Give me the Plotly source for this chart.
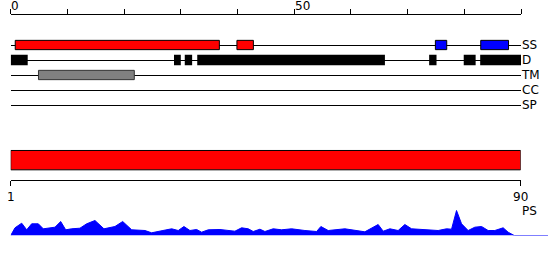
import plotly.graph_objects as go

W, H = 550, 260

# ---------------- data ----------------
track_names = ["SS", "D", "TM", "CC", "SP"]

ss_helix_start = [0.8, 39.9]
ss_helix_end = [36.8, 42.8]
ss_strand_start = [74.9, 82.9]
ss_strand_end = [76.9, 87.8]

dis_start = [0.0, 28.8, 30.7, 32.9, 73.8, 79.9, 82.8]
dis_end = [3.0, 30.0, 32.0, 66.0, 75.1, 82.0, 90.0]

tm_start = [4.9]
tm_end = [21.8]

ruler_ticks = [0, 10, 20, 30, 40, 50, 60, 70, 80, 90]
ruler_labels = [0, 50]

seq_start = 1
seq_end = 90

ps_pos = [1, 1.75, 2.92, 3.79, 4.66, 5.82, 6.69, 7.56, 8.73, 9.73, 10.6, 11.65,
          13.09, 14.26, 15.71, 17.28, 19.2, 20.55, 22.12, 24.44, 25.6, 27.58,
          29.1, 30.25, 31.24, 32.29, 33.46, 34.33, 35.49, 37.53, 40.14, 41.31,
          42.47, 43.34, 44.51, 45.38, 46.83, 48.29, 50.04, 52.36, 54.4, 55.15,
          56.43, 59.34, 62.83, 65.15, 66.03, 67.2, 68.64, 69.81, 70.98, 75.62,
          77.09, 77.96, 78.83, 79.71, 80.86, 82.03, 83.2, 84.35, 85.52, 86.97,
          87.84, 88.9, 94.8]
ps_val = [0, 7.7, 12.3, 5.7, 11.7, 11.7, 6.7, 7.7, 8.3, 14, 5.7, 6.7,
          7.3, 11.7, 15, 6.7, 9, 14, 5.7, 5, 2.7, 5,
          6.7, 5, 9, 5, 6, 3.3, 5.7, 6, 4.3, 7.7,
          6.7, 4, 6.3, 4, 6.7, 5.7, 6.7, 5, 4, 9,
          5, 6.7, 3.7, 11, 4.3, 6.7, 5, 11, 6.7, 5,
          6.7, 6.3, 25, 11.7, 5, 8.3, 9, 5, 5, 7.7,
          3.3, 0, 0]

# ---------------- figure ----------------
def px(x):
    return x / W

def py(y):
    return 1 - y / H

fig = go.Figure()

def boxes(starts, ends, name, fill, line_color, line_w, width):
    fig.add_trace(go.Bar(
        orientation="h",
        y=[name] * len(starts),
        base=starts,
        x=[e - s for s, e in zip(starts, ends)],
        width=width,
        marker=dict(color=fill, line=dict(color=line_color, width=line_w)),
        xaxis="x", yaxis="y", showlegend=False, hoverinfo="skip",
    ))

boxes(ss_helix_start, ss_helix_end, "SS", "#FF0000", "#000000", 1, 0.62)
boxes(ss_strand_start, ss_strand_end, "SS", "#0000FF", "#000000", 1, 0.62)
boxes(dis_start, dis_end, "D", "#000000", "#000000", 0, 0.71)
boxes(tm_start, tm_end, "TM", "#808080", "#333333", 1, 0.62)

# sequence bar
fig.add_trace(go.Bar(
    orientation="h", y=[0.5], base=[seq_start], x=[seq_end - seq_start],
    width=0.48,
    marker=dict(color="#FF0000", line=dict(color="#000000", width=1)),
    xaxis="x2", yaxis="y2", showlegend=False, hoverinfo="skip",
))

# PS profile
fig.add_trace(go.Scatter(
    x=ps_pos, y=ps_val, mode="lines", fill="tozeroy",
    line=dict(color="#0000FF", width=1), fillcolor="#0000FF",
    xaxis="x3", yaxis="y3", showlegend=False, hoverinfo="skip",
))

font = dict(family="DejaVu Sans", size=12, color="#000000")

fig.update_layout(
    width=W, height=H, autosize=False,
    margin=dict(l=0, r=0, t=0, b=0, pad=0, autoexpand=False),
    paper_bgcolor="white", plot_bgcolor="white",
    barmode="overlay",
    font=font,
    xaxis=dict(
        domain=[px(10.7), px(521)], range=[0, 90], anchor="y", side="top",
        showline=True, linecolor="#000000", linewidth=1,
        ticks="outside", ticklen=5, tickcolor="#000000", tickwidth=1,
        tickvals=ruler_ticks, showticklabels=False, automargin=False,
        showgrid=False, zeroline=False, fixedrange=True,
    ),
    yaxis=dict(
        domain=[py(112.5), py(15)], type="category",
        categoryorder="array", categoryarray=track_names,
        range=[4.5, -2], side="right", anchor="x", automargin=False,
        showgrid=True, gridcolor="#000000", gridwidth=1,
        ticks="", ticklabelstandoff=0, showline=False, zeroline=False,
        tickfont=font,
    ),
    xaxis2=dict(
        domain=[px(10.7), px(520.7)], range=[seq_start, seq_end], anchor="y2",
        showline=True, linecolor="#000000", linewidth=1, automargin=False,
        ticks="outside", ticklen=5, tickcolor="#000000",
        tickvals=[seq_start, seq_end], ticktext=[str(seq_start), str(seq_end)],
        showgrid=False, zeroline=False, tickfont=font,
    ),
    yaxis2=dict(
        domain=[py(180.3), py(140)], range=[0, 1], anchor="x2",
        visible=False, automargin=False,
    ),
    xaxis3=dict(
        domain=[px(10.7), px(548)], range=[ps_pos[0], ps_pos[-1]], anchor="y3",
        visible=False, automargin=False,
    ),
    yaxis3=dict(
        domain=[py(235.5), py(205.5)], range=[0, 30], anchor="x3",
        visible=False, automargin=False,
    ),
    annotations=[
        dict(x=v, y=py(6), xref="x", yref="paper", text=str(v),
             xanchor="left", yanchor="middle", showarrow=False, font=font,
             xshift=-1.5)
        for v in ruler_labels
    ] + [
        dict(x=px(521), y=py(210.5), xref="paper", yref="paper", text="PS",
             xanchor="left", yanchor="middle", showarrow=False, font=font,
             xshift=-1.5),
    ],
)

fig.write_html("out.html")
